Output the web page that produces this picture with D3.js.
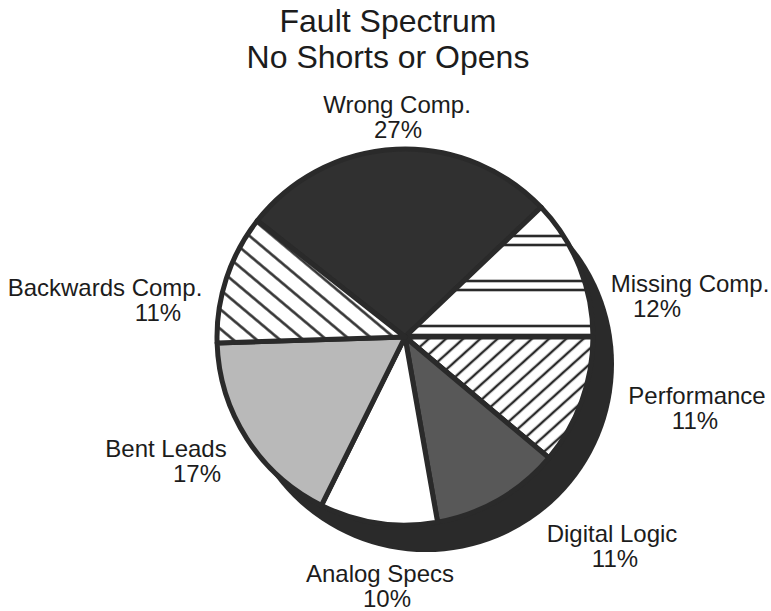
<!DOCTYPE html>
<html>
<head>
<meta charset="utf-8">
<script src="https://cdn.jsdelivr.net/npm/d3@7"></script>
<style>
  html, body { margin: 0; padding: 0; background: #fff; }
  svg { display: block; }
  text { font-family: "Liberation Sans", Arial, Helvetica, sans-serif; fill: #1c1c1c; }
</style>
</head>
<body>
<script>
// ---- data ----
const titleLines = ["Fault Spectrum", "No Shorts or Opens"];
const categories = ["Wrong Comp.", "Missing Comp.", "Performance", "Digital Logic", "Analog Specs", "Bent Leads", "Backwards Comp."];
const values = [27, 12, 11, 11, 10, 17, 11];
const percentLabels = ["27%", "12%", "11%", "11%", "10%", "17%", "11%"];

// ---- layout / style ----
const W = 771, H = 611;
const cx = 405, cy = 337, R = 188;
const shadowDx = 21, shadowDy = 27;
const startDeg = -51.8;
const dark = "#2a2a2a";
const fills = ["#303030", "url(#hlines)", "url(#diagR)", "#585858", "#ffffff", "#b9b9b9", "url(#diagL)"];
// label anchors: [line1 x, line1 baseline, line2 x, line2 baseline]
const labelLayout = [
  [397, 113, 398, 138],
  [690, 292, 657, 317],
  [697, 404, 695, 429],
  [612, 542, 615, 567],
  [380, 582, 387, 607],
  [166, 457, 197, 482],
  [105, 296, 158, 321]
];

const svg = d3.select("body").append("svg").attr("width", W).attr("height", H);
svg.append("rect").attr("width", W).attr("height", H).attr("fill", "#fff");

const defs = svg.append("defs");
// horizontal double lines
const ph = defs.append("pattern").attr("id", "hlines").attr("patternUnits", "userSpaceOnUse")
  .attr("x", 0).attr("y", 210).attr("width", 20).attr("height", 45);
ph.append("rect").attr("width", 20).attr("height", 45).attr("fill", "#fff");
[4, 13].forEach(y => ph.append("line").attr("x1", 0).attr("x2", 20).attr("y1", y).attr("y2", y)
  .attr("stroke", dark).attr("stroke-width", 2.6));
// "/" diagonal
const pr = defs.append("pattern").attr("id", "diagR").attr("patternUnits", "userSpaceOnUse")
  .attr("width", 40).attr("height", 11.5).attr("patternTransform", "rotate(-42)");
pr.append("rect").attr("width", 40).attr("height", 11.5).attr("fill", "#fff");
pr.append("line").attr("x1", 0).attr("x2", 40).attr("y1", 5.75).attr("y2", 5.75)
  .attr("stroke", dark).attr("stroke-width", 2.4);
// "\" diagonal
const pl = defs.append("pattern").attr("id", "diagL").attr("patternUnits", "userSpaceOnUse")
  .attr("width", 40).attr("height", 15).attr("patternTransform", "rotate(40)");
pl.append("rect").attr("width", 40).attr("height", 15).attr("fill", "#fff");
pl.append("line").attr("x1", 0).attr("x2", 40).attr("y1", 7.5).attr("y2", 7.5)
  .attr("stroke", dark).attr("stroke-width", 2.4);

// title (one text element, two lines)
const title = svg.append("text").attr("text-anchor", "middle").attr("font-size", 32);
title.selectAll("tspan").data(titleLines).join("tspan")
  .attr("x", 388).attr("y", (d, i) => 32 + i * 36)
  .text(d => d);

// shadow
svg.append("circle").attr("cx", cx + shadowDx).attr("cy", cy + shadowDy).attr("r", R)
  .attr("fill", dark);
// outline backdrop
svg.append("circle").attr("cx", cx).attr("cy", cy).attr("r", R + 1.5).attr("fill", dark);

const start = startDeg * Math.PI / 180;
const pie = d3.pie().sort(null).value(d => d).startAngle(start).endAngle(start + 2 * Math.PI);
const arc = d3.arc().innerRadius(0).outerRadius(R);

const g = svg.append("g").attr("transform", `translate(${cx},${cy})`);
g.selectAll("path").data(pie(values)).join("path")
  .attr("d", arc)
  .attr("fill", (d, i) => fills[i])
  .attr("stroke", dark).attr("stroke-width", 5).attr("stroke-linejoin", "round");

// labels: one text element per slice, two tspans
const lab = svg.append("g").attr("font-size", 24).attr("text-anchor", "middle");
categories.forEach((c, i) => {
  const L = labelLayout[i];
  const t = lab.append("text");
  t.append("tspan").attr("x", L[0]).attr("y", L[1]).text(c);
  t.append("tspan").attr("x", L[2]).attr("y", L[3]).text(percentLabels[i]);
});
</script>
</body>
</html>
